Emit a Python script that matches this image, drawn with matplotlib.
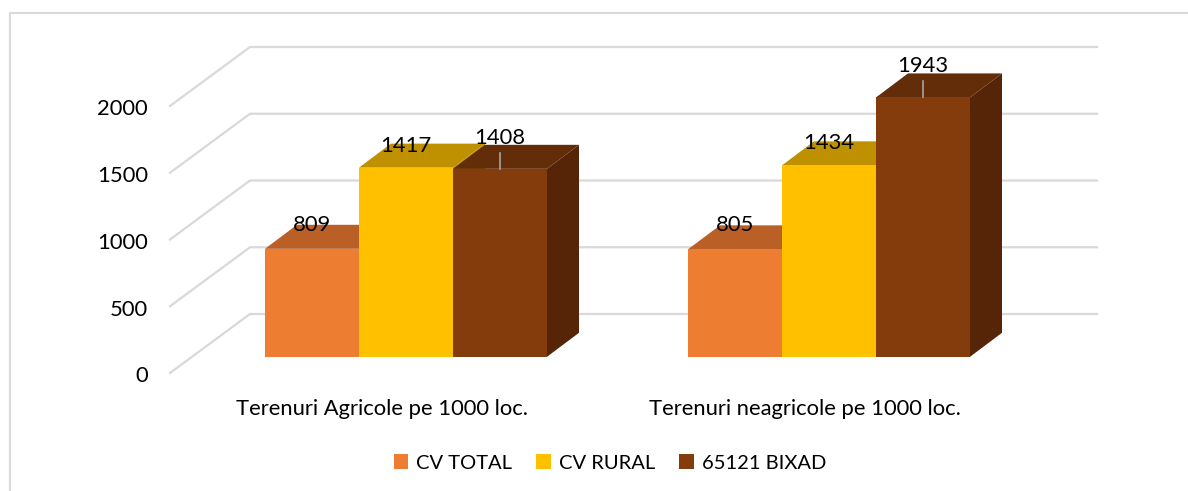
import matplotlib
matplotlib.use('Agg')
import matplotlib.pyplot as plt
from matplotlib.lines import Line2D
from matplotlib.patches import Patch, Polygon

plt.rcParams['font.family'] = ['Lato', 'DejaVu Sans']

categories = ['Terenuri Agricole pe 1000 loc.', 'Terenuri neagricole pe 1000 loc.']
series_names = ['CV TOTAL', 'CV RURAL', '65121 BIXAD']
cv_total = [809, 805]
cv_rural = [1417, 1434]
bixad = [1408, 1943]
y_ticks = [0, 500, 1000, 1500, 2000]

front_colors = ['#ED7D31', '#FFC000', '#843C0C']
top_colors = ['#BA5F26', '#BF9000', '#632D09']
side_colors = ['#A4551F', '#B38600', '#562508']
grid_color = '#D9D9D9'
font_size = 15.8

# pixel scale of the picture: group spacing and height of one value unit
px_x = 423.0
px_y = 0.1335
W, H = 1188, 491
x0_px, y0_px = 406, 356.8


def dx(px):
    return px / px_x


def dy(px):
    return px / px_y


fig = plt.figure(figsize=(W / 100, H / 100), dpi=100)
ax = fig.add_axes([0, 0, 1, 1])
ax.set_xlim(-x0_px / px_x, (W - x0_px) / px_x)
ax.set_ylim((y0_px - H) / px_y, y0_px / px_y)
ax.axis('off')

# chart frame, only top and left are visible in the picture
fig.add_artist(Line2D([10 / W, 10 / W, 1], [0, 1 - 13 / H, 1 - 13 / H], color=grid_color, lw=1.5))

# gridlines run along the floor side wall and then the back wall
for v in y_ticks:
    xs = [dx(170 - x0_px), dx(250 - x0_px), dx(1097 - x0_px)]
    ys = [v + dy(-16.2), v + dy(42.8), v + dy(42.8)]
    ax.plot(xs, ys, color=grid_color, lw=1.6, solid_joinstyle='miter', zorder=1)
    ax.text(dx(148 - x0_px), v + dy(-17.5), str(v), ha='right', va='center_baseline',
            fontsize=font_size, color='black')

bar_w = dx(94)
depth_x = dx(32)
depth_y = dy(24)
all_series = [cv_total, cv_rural, bixad]
label_gap = [26, 24, 33]

for g in range(len(categories)):
    for s, values in enumerate(all_series):
        v = values[g]
        left = g + (s - 1.5) * bar_w
        right = left + bar_w
        z = 3 + g * 3 + s
        ax.add_patch(Polygon([(right, 0), (right + depth_x, depth_y), (right + depth_x, v + depth_y), (right, v)],
                             facecolor=side_colors[s], edgecolor='none', zorder=z))
        ax.add_patch(Polygon([(left, v), (left + depth_x, v + depth_y), (right + depth_x, v + depth_y), (right, v)],
                             facecolor=top_colors[s], edgecolor='none', zorder=z))
        ax.bar(left, v, width=bar_w, align='edge', color=front_colors[s], zorder=z)

for g in range(len(categories)):
    for s, values in enumerate(all_series):
        v = values[g]
        cx = g + (s - 1) * bar_w
        if s == 2:
            # leader line to the label on the taller bars
            ax.plot([cx, cx], [v, v + dy(16)], color='#A6A6A6', lw=1.2, zorder=20)
        ax.text(cx, v + dy(label_gap[s]), str(v), ha='center', va='center_baseline',
                fontsize=font_size, color='black', zorder=21)

for g, name in enumerate(categories):
    ax.text(g + dx(-24), dy(356 - 406), name, ha='center', va='center_baseline',
            fontsize=font_size, color='black')

handles = [Patch(facecolor=c, edgecolor='none') for c in front_colors]
fig.legend(handles, series_names, loc='center', bbox_to_anchor=(610 / W, 1 - 463 / H), ncol=3,
           frameon=False, fontsize=14.5, handlelength=0.72, handleheight=0.72,
           handletextpad=0.4, columnspacing=1.2, borderpad=0)

fig.savefig('out.png', dpi=100)
